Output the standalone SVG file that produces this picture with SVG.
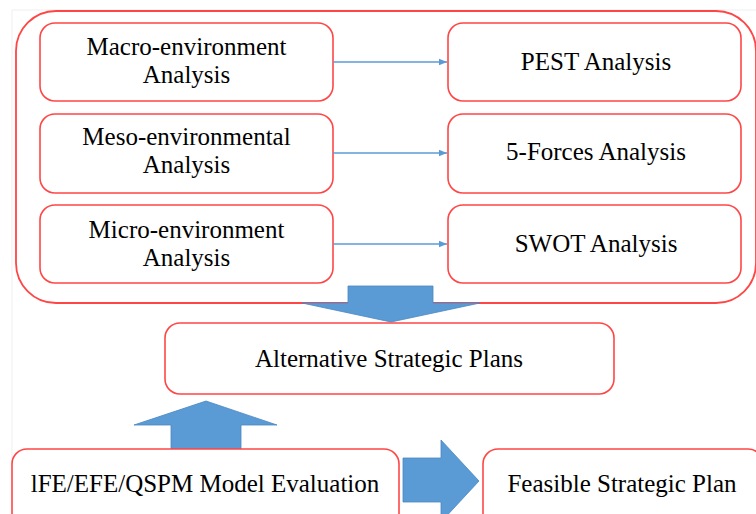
<svg xmlns="http://www.w3.org/2000/svg" width="756" height="514" viewBox="0 0 756 514">
  <style>
    .box { fill: #ffffff; stroke: #ff4646; stroke-width: 1.6; }
    .frame { fill: none; stroke: #ff4646; stroke-width: 1.8; }
    .label { font-family: "Liberation Serif", "Times New Roman", serif; font-size: 25px; fill: #000000; text-anchor: middle; }
    .link { fill: none; stroke: #5b9bd5; stroke-width: 1.3; }
    .block { fill: #5b9bd5; stroke: #4a86c0; stroke-width: 0.8; stroke-linejoin: miter; }
  </style>
  <defs>
    <marker id="tip" markerUnits="userSpaceOnUse" markerWidth="8" markerHeight="8" viewBox="0 0 8 8" refX="8" refY="4" orient="auto">
      <path d="M0 0.8 L8 4 L0 7.2 Z" fill="#5b9bd5"/>
    </marker>
  </defs>

  <rect width="756" height="514" fill="#ffffff"/>
  <!-- faint page edge -->
  <path d="M12 514 V10 H756" fill="none" stroke="#efefef" stroke-width="1"/>

  <!-- environment analysis frame -->
  <g id="analysis-frame">
    <rect class="frame" x="16" y="11" width="740" height="292" rx="40" ry="40"/>
  </g>

  <!-- block arrows (drawn over the frame) -->
  <g id="block-arrows">
    <path class="block" d="M348 286 H433 V303 H480 L391 322 L302 303 H348 Z"/>
    <path class="block" d="M171 449 V425 H134 L206 401 L277 425 H241 V449 Z"/>
    <path class="block" d="M403 458 H441 V440 L479 481 L441 522 V502 H403 Z"/>
  </g>

  <g id="macro">
    <rect class="box" x="40" y="23" width="293" height="78" rx="15"/>
    <text class="label" x="186.5" y="55">Macro-environment</text>
    <text class="label" x="186.5" y="83">Analysis</text>
  </g>
  <g id="meso">
    <rect class="box" x="40" y="114" width="293" height="79" rx="15"/>
    <text class="label" x="186.5" y="145">Meso-environmental</text>
    <text class="label" x="186.5" y="173">Analysis</text>
  </g>
  <g id="micro">
    <rect class="box" x="40" y="205" width="293" height="78" rx="15"/>
    <text class="label" x="186.5" y="237.5">Micro-environment</text>
    <text class="label" x="186.5" y="265.5">Analysis</text>
  </g>

  <g id="pest">
    <rect class="box" x="448" y="23" width="293" height="78" rx="15"/>
    <text class="label" x="596" y="70">PEST Analysis</text>
  </g>
  <g id="five-forces">
    <rect class="box" x="448" y="114" width="293" height="79" rx="15"/>
    <text class="label" x="596" y="160">5-Forces Analysis</text>
  </g>
  <g id="swot">
    <rect class="box" x="448" y="205" width="293" height="78" rx="15"/>
    <text class="label" x="596" y="252">SWOT Analysis</text>
  </g>

  <g id="connectors">
    <line class="link" x1="333" y1="62" x2="447" y2="62" marker-end="url(#tip)"/>
    <line class="link" x1="333" y1="153" x2="447" y2="153" marker-end="url(#tip)"/>
    <line class="link" x1="333" y1="244" x2="447" y2="244" marker-end="url(#tip)"/>
  </g>

  <g id="alternative-plans">
    <rect class="box" x="165" y="323" width="449" height="71" rx="15"/>
    <text class="label" x="389" y="367">Alternative Strategic Plans</text>
  </g>

  <g id="model-evaluation">
    <rect class="box" x="12" y="449" width="387" height="90" rx="15"/>
    <text class="label" x="205" y="492">lFE/EFE/QSPM Model Evaluation</text>
  </g>

  <g id="feasible-plan">
    <rect class="box" x="483" y="449" width="280" height="90" rx="15"/>
    <text class="label" x="622" y="492">Feasible Strategic Plan</text>
  </g>
</svg>
